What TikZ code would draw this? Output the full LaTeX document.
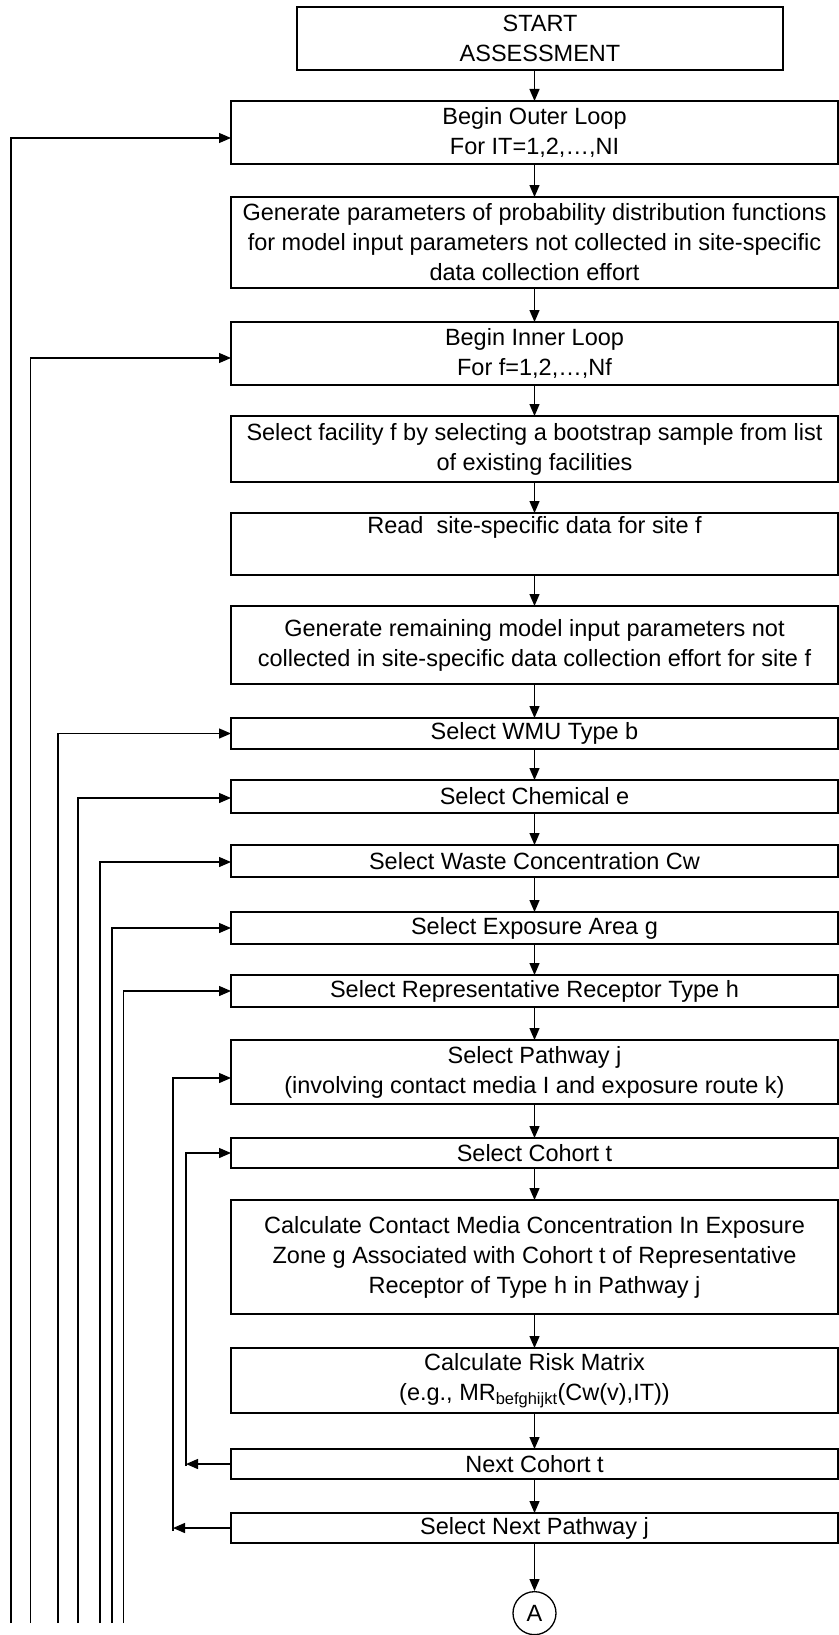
\documentclass[tikz,border=0pt]{standalone}
\usepackage{fontspec}
\setmainfont{Liberation Sans}
\usetikzlibrary{arrows.meta, positioning}

\begin{document}
\begin{tikzpicture}[
    x=1pt, y=1pt,
    every node/.style={font=\fontsize{23.5}{30}\selectfont},
    box/.style={rectangle, draw, line width=1.8pt, minimum width=607pt, align=center, inner xsep=2pt, inner ysep=1pt, outer sep=0pt},
    arrow/.style={-{Triangle[length=12pt, width=10pt]}, line width=1.3pt},
    conn/.style={circle, draw, line width=1.3pt, minimum size=43pt, inner sep=0pt}
]

% Page frame
\useasboundingbox (0,0) rectangle (838,-1635);

% Start
\node[box, minimum width=486pt, minimum height=63pt] (start) at (540,-38.5) {START\\ASSESSMENT};

% Outer loop
\node[box, minimum height=63pt, below=31pt of start, xshift=-5.5pt] (outer) {Begin Outer Loop\\For IT=1,2,…,NI};
\node[box, minimum height=91pt, below=33pt of outer] (genpdf) {Generate parameters of probability distribution functions\\for model input parameters not collected in site-specific\\data collection effort};

% Inner loop
\node[box, minimum height=63pt, below=34pt of genpdf] (inner) {Begin Inner Loop\\For f=1,2,…,Nf};
\node[box, minimum height=66pt, below=31pt of inner] (facility) {Select facility f by selecting a bootstrap sample from list\\of existing facilities};
\node[box, minimum height=62pt, below=31pt of facility] (readsite) {Read\ \ site-specific data for site f\\\strut};
\node[box, minimum height=78pt, below=31pt of readsite] (genrest) {Generate remaining model input parameters not\\collected in site-specific data collection effort for site f};

% Selection loops
\node[box, minimum height=31pt, below=34pt of genrest] (wmu) {Select WMU Type b};
\node[box, minimum height=33pt, below=31pt of wmu] (chem) {Select Chemical e};
\node[box, minimum height=32pt, below=32pt of chem] (waste) {Select Waste Concentration Cw};
\node[box, minimum height=32pt, below=35pt of waste] (expo) {Select Exposure Area g};
\node[box, minimum height=32pt, below=31pt of expo] (recep) {Select Representative Receptor Type h};
\node[box, minimum height=64pt, below=33pt of recep] (path) {Select Pathway j\\(involving contact media I and exposure route k)};
\node[box, minimum height=30pt, below=34pt of path] (cohort) {Select Cohort t};

% Calculations
\node[box, minimum height=114pt, below=32pt of cohort] (conc) {Calculate Contact Media Concentration In Exposure\\Zone g Associated with Cohort t of Representative\\Receptor of Type h in Pathway j};
\node[box, minimum height=65pt, below=34pt of conc] (risk) {Calculate Risk Matrix\\(e.g., MR\textsubscript{befghijkt}(Cw(v),IT))};

% Loop ends
\node[box, minimum height=30pt, below=36pt of risk] (nextc) {Next Cohort t};
\node[box, minimum height=30pt, below=34pt of nextc] (nextp) {Select Next Pathway j};
\node[conn, below=48pt of nextp] (contA) {A};

% Main flow
\draw[arrow] (start.south -| outer) -- (outer.north);
\foreach \a/\b in {outer/genpdf, genpdf/inner, inner/facility, facility/readsite, readsite/genrest,
                   genrest/wmu, wmu/chem, chem/waste, waste/expo, expo/recep, recep/path, path/cohort,
                   cohort/conc, conc/risk, risk/nextc, nextc/nextp, nextp/contA}
    \draw[arrow] (\a) -- (\b);

% Loops continued from the next page
\foreach \n/\x/\s in {outer/11/-5.5pt, inner/30.5/-4.5pt, wmu/58/0pt, chem/78/-1.5pt,
                      waste/100/-1pt, expo/112/0pt, recep/123.5/0pt} {
    \coordinate (end-\n) at (\x,-1623);
    \draw[arrow] (end-\n) |- ([yshift=\s]\n.west);
}

% Cohort and pathway loops
\coordinate (end-cohort) at (186,-1466);
\coordinate (end-path) at (173,-1531);
\draw[arrow] (nextc.west) -- (nextc.west -| end-cohort);
\draw[arrow] (end-cohort) |- (cohort.west);
\draw[arrow] (nextp.west) -- (nextp.west -| end-path);
\draw[arrow] (end-path) |- ([yshift=-6pt]path.west);

\end{tikzpicture}
\end{document}
